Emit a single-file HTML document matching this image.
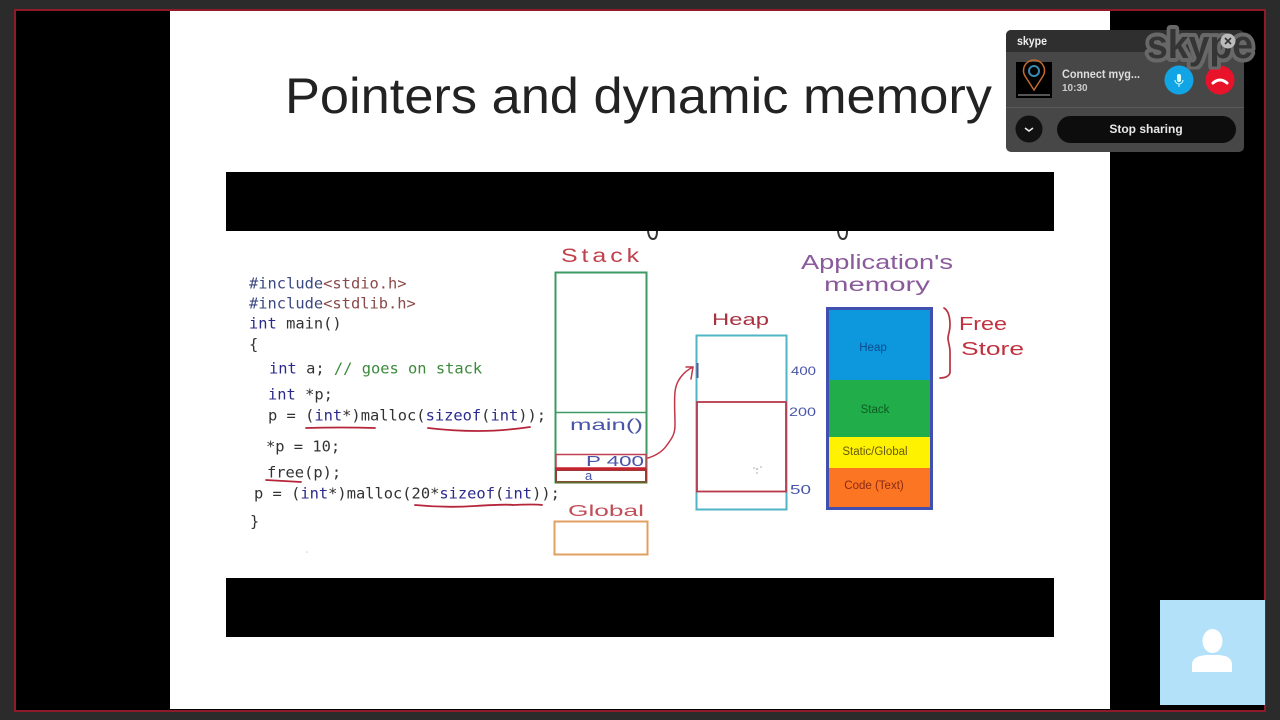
<!DOCTYPE html>
<html><head><meta charset="utf-8"><style>
html,body{margin:0;padding:0;background:#2b2b2b;width:1280px;height:720px;overflow:hidden}
svg{display:block;position:absolute;left:0;top:0}
.c{font-family:"DejaVu Sans Mono","Liberation Mono",monospace;font-size:15.4px;font-weight:400}
.h{font-family:"Liberation Sans",sans-serif}
</style></head><body>
<svg width="1280" height="720" viewBox="0 0 1280 720" xmlns="http://www.w3.org/2000/svg">
<defs>
<filter id="b2" x="-5%" y="-5%" width="110%" height="110%"><feGaussianBlur stdDeviation="0.35"/></filter></defs>
<rect width="1280" height="720" fill="#2b2b2b"/>
<rect x="15" y="10" width="1250" height="701" fill="#000" stroke="#8e1a2c" stroke-width="2"/>
<rect x="170" y="11" width="940" height="698" fill="#fff"/>
<text x="285" y="113" class="h" font-size="50" fill="#222" textLength="707" lengthAdjust="spacingAndGlyphs">Pointers and dynamic memory</text>
<rect x="226" y="172" width="828" height="59" fill="#000"/>
<rect x="226" y="578" width="828" height="59" fill="#000"/>
<path d="M648 231q1 8 5 8t4-8M838 231q1 8 5 8t4-8" fill="none" stroke="#333" stroke-width="2"/>

<g filter="url(#b2)" transform="translate(0,0.5)">
<text class="c" y="288"><tspan x="249" fill="#3a4a80">#include</tspan><tspan fill="#8a4a4a">&lt;stdio.h&gt;</tspan></text>
<text class="c" y="308"><tspan x="249" fill="#3a4a80">#include</tspan><tspan fill="#8a4a4a">&lt;stdlib.h&gt;</tspan></text>
<text class="c" y="328" x="249" fill="#333"><tspan fill="#2c2c8c">int</tspan> main()</text>
<text class="c" y="349" x="249" fill="#333">{</text>
<text class="c" y="373" x="269" fill="#333"><tspan fill="#2c2c8c">int</tspan> a; <tspan fill="#3a8a3a">// goes on stack</tspan></text>
<text class="c" y="399" x="268" fill="#333"><tspan fill="#2c2c8c">int</tspan> *p;</text>
<text class="c" y="420" x="268" fill="#333">p = (<tspan fill="#2c2c8c">int</tspan>*)malloc(<tspan fill="#2c2c8c">sizeof</tspan>(<tspan fill="#2c2c8c">int</tspan>));</text>
<text class="c" y="451" x="266" fill="#333">*p = 10;</text>
<text class="c" y="477" x="267" fill="#333">free(p);</text>
<text class="c" y="498" x="254" fill="#333">p = (<tspan fill="#2c2c8c">int</tspan>*)malloc(20*<tspan fill="#2c2c8c">sizeof</tspan>(<tspan fill="#2c2c8c">int</tspan>));</text>
<text class="c" y="526" x="250" fill="#333">}</text>
</g>
<g fill="none" stroke="#b5263a" stroke-width="1.800" stroke-linecap="round" filter="url(#b2)">
<path d="M306 428q35-1 69 0"/>
<path d="M428 428q25 3 50 3t52-4"/>
<path d="M266 480q18 1 35 2"/>
<path d="M415 505q30 3 60 1t39-1q20-1 28 0"/>
</g>

<g filter="url(#b2)">
<rect x="555.500" y="272.500" width="91" height="210" fill="#fff" stroke="#3e9a62" stroke-width="2"/>
<line x1="555" y1="412.500" x2="647" y2="412.500" stroke="#3e9a62" stroke-width="1.600"/>
<rect x="556" y="454.500" width="90" height="14" fill="none" stroke="#c04050" stroke-width="1.500"/>
<rect x="556" y="470" width="90" height="12" fill="none" stroke="#a03838" stroke-width="2"/>
<line x1="555" y1="468.500" x2="646" y2="468.500" stroke="#c8202f" stroke-width="2.400"/>
<line x1="555" y1="482.500" x2="647" y2="482.500" stroke="#5d6a2f" stroke-width="2"/>
<rect x="554.500" y="521.500" width="93" height="33" fill="none" stroke="#e0a060" stroke-width="2"/>

<rect x="696.500" y="335.500" width="90" height="174" fill="none" stroke="#50b4c4" stroke-width="2"/>
<rect x="697" y="402" width="89" height="89.500" fill="none" stroke="#b8384a" stroke-width="1.800"/>
<line x1="697.500" y1="363" x2="697.500" y2="378" stroke="#555a90" stroke-width="2"/>
<path d="M648 458q13-4 19-13c6-8 8-12 8-20 0-12-1-22 0-33 1-11 8-20 18-25M686 367l7 0-2 12" fill="none" stroke="#c03848" stroke-width="1.500" stroke-linecap="round"/>

<rect x="826" y="307" width="107" height="203" fill="#3f4fb0"/>
<rect x="829" y="310" width="101" height="70" fill="#0b97dd"/>
<rect x="829" y="380" width="101" height="57" fill="#21ad4b"/>
<rect x="829" y="437" width="101" height="31" fill="#fff200"/>
<rect x="829" y="468" width="101" height="39" fill="#fb7520"/>
<path d="M944 308c5 3 6 10 6 17 0 6-2 10-2 13 0 4 2 8 2 14v20c0 4-5 6-10 6" fill="none" stroke="#b83040" stroke-width="1.700" stroke-linecap="round"/>
</g>

<g class="h" text-anchor="middle" font-size="11.500" filter="url(#b2)">
<text x="873" y="351" fill="#0c4a8c">Heap</text>
<text x="875" y="413" fill="#0b5c20">Stack</text>
<text x="875" y="455" fill="#665a10">Static/Global</text>
<text x="874" y="489" fill="#8a2a14">Code (Text)</text>
</g>

<g class="h" filter="url(#b2)">
<text x="561" y="262" font-size="19" fill="#c0404c" textLength="82" lengthAdjust="spacingAndGlyphs" letter-spacing="3">Stack</text>
<text x="712" y="325" font-size="17" fill="#a8303f" textLength="57" lengthAdjust="spacingAndGlyphs">Heap</text>
<text x="570" y="430" font-size="16" fill="#4a55a8" textLength="73" lengthAdjust="spacingAndGlyphs">main()</text>
<text x="586" y="466" font-size="15" fill="#4a55a8" textLength="58" lengthAdjust="spacingAndGlyphs">P 400</text>
<text x="585" y="480" font-size="13" fill="#4a55a8">a</text>
<text x="568" y="516" font-size="16" fill="#c0505a" textLength="76" lengthAdjust="spacingAndGlyphs">Global</text>
<text x="801" y="269" font-size="20" fill="#8a5a9a" textLength="152" lengthAdjust="spacingAndGlyphs">Application's</text>
<text x="824" y="291" font-size="19" fill="#8a5a9a" textLength="106" lengthAdjust="spacingAndGlyphs">memory</text>
<text x="959" y="330" font-size="18" fill="#c03040" textLength="48" lengthAdjust="spacingAndGlyphs">Free</text>
<text x="961" y="355" font-size="18" fill="#c03040" textLength="63" lengthAdjust="spacingAndGlyphs">Store</text>
<text x="791" y="375" font-size="12" fill="#4a55a8" textLength="25" lengthAdjust="spacingAndGlyphs">400</text>
<text x="789" y="416" font-size="12" fill="#4a55a8" textLength="27" lengthAdjust="spacingAndGlyphs">200</text>
<text x="790" y="494" font-size="13" fill="#4a55a8" textLength="21" lengthAdjust="spacingAndGlyphs">50</text>
</g>
<g fill="#ccc"><circle cx="757" cy="469" r="1.200"/><circle cx="761" cy="467" r="1"/><circle cx="754" cy="468" r="1"/><circle cx="757" cy="473" r="1"/><circle cx="307" cy="552" r=".8"/></g>

<rect x="1006" y="30" width="238" height="122" rx="5" fill="#474747"/>
<path d="M1006 52V35a5 5 0 0 1 5-5h228a5 5 0 0 1 5 5v17z" fill="#2f2f2f"/>
<line x1="1006" y1="107.500" x2="1244" y2="107.500" stroke="#5a5a5a"/>
<text x="1032" y="45" class="h" font-size="11.500" font-weight="700" fill="#eee" text-anchor="middle" textLength="30" lengthAdjust="spacingAndGlyphs">skype</text>
<rect x="1016" y="62" width="36" height="36" fill="#000"/>
<path d="M1034 90l-9-14a10.500 10.500 0 1 1 18 0z" fill="none" stroke="#c56a30" stroke-width="1.500"/>
<circle cx="1034" cy="71" r="5" fill="none" stroke="#3a8ab0" stroke-width="2"/>
<line x1="1018" y1="95" x2="1050" y2="95" stroke="#aaa" stroke-width="1"/>
<text x="1062" y="78" class="h" font-size="12" font-weight="700" fill="#ddd" textLength="78" lengthAdjust="spacingAndGlyphs">Connect myg...</text>
<text x="1062" y="91" class="h" font-size="10" font-weight="700" fill="#ccc">10:30</text>
<circle cx="1179" cy="80" r="14.500" fill="#12a5e6"/>
<rect x="1177" y="74" width="4" height="8" rx="2" fill="#dff"/>
<path d="M1175 80a4 4 0 0 0 8 0M1179 84v3" fill="none" stroke="#dff" stroke-width="1"/>
<circle cx="1220" cy="80" r="14.500" fill="#e8132a"/>
<path d="M1213 83q7-6 14 0" fill="none" stroke="#fff" stroke-width="3" stroke-linecap="round"/>
<circle cx="1029" cy="129" r="13.500" fill="#111"/>
<path d="M1025 128l4 3 4-3" fill="none" stroke="#eee" stroke-width="1.500"/>
<rect x="1057" y="116" width="179" height="27" rx="13.500" fill="#0d0d0d"/>
<text x="1146" y="133" class="h" font-size="12" font-weight="700" fill="#e8e8e8" text-anchor="middle">Stop sharing</text>

<text x="1200" y="58" class="h" font-size="40" font-weight="700" fill="#343434" stroke="#686868" stroke-width="8" stroke-linejoin="round" paint-order="stroke" text-anchor="middle" textLength="106" lengthAdjust="spacingAndGlyphs" filter="url(#b2)">skype</text>
<circle cx="1228" cy="41" r="7.500" fill="#bbb"/>
<path d="M1225 38l6 6m0-6l-6 6" stroke="#333" stroke-width="1.600"/>

<rect x="1160" y="600" width="105" height="105" fill="#b3e1f9"/>
<ellipse cx="1212.500" cy="641" rx="10" ry="12" fill="#fff"/>
<path d="M1192 672v-7q0-7 8-9l6-1h13l6 1q7 2 7 9v7z" fill="#fff"/>
</svg>
</body></html>
